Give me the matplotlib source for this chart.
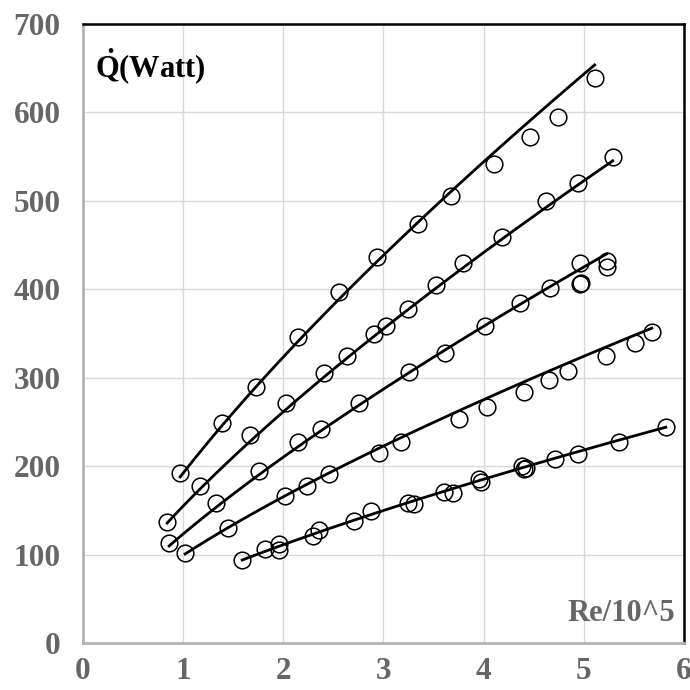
import numpy as np
import matplotlib
matplotlib.use("Agg")
import matplotlib.pyplot as plt

plt.rcParams['font.family'] = ['Liberation Serif', 'DejaVu Serif']
plt.rcParams['font.weight'] = 'bold'
plt.rcParams['mathtext.fontset'] = 'custom'
plt.rcParams['mathtext.rm'] = 'Liberation Serif:bold'
plt.rcParams['mathtext.it'] = 'Liberation Serif:bold'
plt.rcParams['mathtext.bf'] = 'Liberation Serif:bold'

# Re/10^5 and heat rate (W) for the five data sets, top to bottom
re_1 = [0.97, 1.39, 1.73, 2.15, 2.56, 2.94, 3.35, 3.68, 4.10, 4.46, 4.74, 5.11]
q_1 = [192, 249, 290, 346, 397, 436, 474, 505, 542, 572, 595, 639]

re_2 = [0.84, 1.17, 1.67, 2.03, 2.41, 2.64, 2.91, 3.03, 3.25, 3.53, 3.79,
        4.18, 4.62, 4.94, 5.29]
q_2 = [137, 178, 235, 272, 305, 325, 350, 358, 378, 405, 430,
       459, 500, 520, 550]

re_3 = [0.86, 1.33, 1.76, 2.15, 2.38, 2.76, 3.26, 3.62, 4.01, 4.36, 4.66,
        4.96, 4.96, 4.97, 5.23, 5.23]
q_3 = [113, 158, 195, 228, 242, 272, 307, 328, 359, 385, 401,
       430, 406, 407, 432, 425]

re_4 = [1.02, 1.45, 2.02, 2.24, 2.46, 2.96, 3.18, 3.76, 4.03, 4.40, 4.65,
        4.84, 5.22, 5.51, 5.68]
q_4 = [102, 130, 166, 178, 191, 215, 227, 253, 267, 284, 298,
       308, 325, 339, 352]

re_5 = [1.59, 1.82, 1.96, 1.96, 2.30, 2.36, 2.71, 2.88, 3.25, 3.31, 3.61,
        3.70, 3.95, 3.97, 4.38, 4.40, 4.42, 4.71, 4.94, 5.35, 5.82]
q_5 = [94, 107, 112, 105, 121, 128, 138, 149, 159, 157, 171,
       170, 186, 182, 200, 197, 198, 208, 214, 228, 244]

# power trend lines q = a * Re^b
fit_a = [192.3, 155.0, 123.5, 99.5, 66.9]
fit_b = [0.750, 0.755, 0.768, 0.734, 0.735]

x_ticks = [0, 1, 2, 3, 4, 5, 6]
y_ticks = [0, 100, 200, 300, 400, 500, 600, 700]

series = [(re_1, q_1), (re_2, q_2), (re_3, q_3), (re_4, q_4), (re_5, q_5)]

fig = plt.figure(figsize=(6.9, 6.9), dpi=100)
ax = fig.add_axes([0.1203, 0.0677, 0.8707, 0.8978])

for (re, q), a, b in zip(series, fit_a, fit_b):
    ax.plot(re, q, 'o', markersize=12, markerfacecolor='none',
            markeredgecolor='black', markeredgewidth=1.1, zorder=3)
    xs = np.linspace(min(re), max(re), 100)
    ax.plot(xs, a * xs ** b, color='black', linewidth=2.0, zorder=4)

ax.set_xlim(0, 6)
ax.set_ylim(0, 700)
ax.set_xticks(x_ticks)
ax.set_yticks(y_ticks)
ax.grid(True, color='#d9d9d9', linewidth=1.0)
ax.set_axisbelow(True)
ax.tick_params(length=0, labelsize=22.5, labelcolor='#666666')
ax.tick_params(axis='x', pad=10)
ax.tick_params(axis='y', pad=16)
for lab in ax.get_xticklabels() + ax.get_yticklabels():
    lab.set_fontweight('bold')

for side in ['left', 'bottom']:
    ax.spines[side].set_color('#b3b3b3')
    ax.spines[side].set_linewidth(2.0)
for side in ['top', 'right']:
    ax.spines[side].set_color('black')
    ax.spines[side].set_linewidth(1.8)

ax.text(0.02, 0.93, r'$\dot{Q}$(Watt)', transform=ax.transAxes, fontsize=22,
        fontweight='bold', color='black', ha='left', va='center')
ax.text(0.985, 0.025, 'Re/10^5', transform=ax.transAxes, fontsize=22,
        fontweight='bold', color='#666666', ha='right', va='bottom')

fig.savefig('out.png', dpi=100)
